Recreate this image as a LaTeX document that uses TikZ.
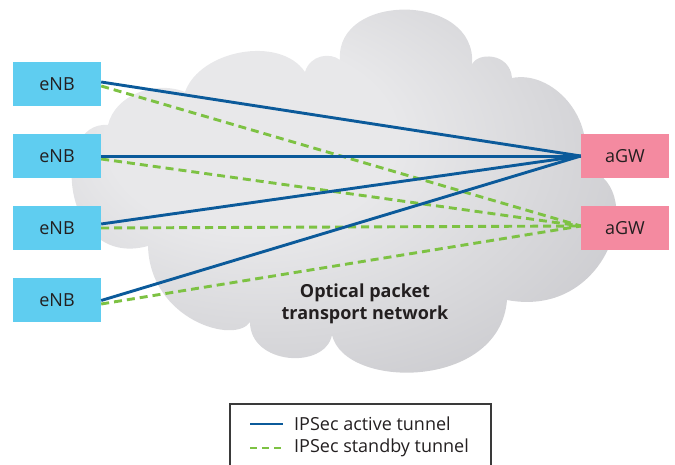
\documentclass[tikz,border=0pt]{standalone}
\usepackage{fontspec}
\setmainfont{Open Sans}
\usetikzlibrary{calc}

\definecolor{enbblue}{HTML}{5FCDF0}
\definecolor{gwpink}{HTML}{F48AA0}
\definecolor{activeblue}{HTML}{0B5A9A}
\definecolor{standbygreen}{HTML}{7DC243}
\definecolor{textdark}{HTML}{231F20}
\definecolor{cloudlight}{HTML}{E8E8EA}
\definecolor{clouddark}{HTML}{B8B8BD}
\definecolor{framegray}{HTML}{3A3A3A}

\pgfdeclareradialshading{cloudshade}{\pgfpoint{-10bp}{8bp}}{%
  color(0bp)=(cloudlight);
  color(12bp)=(cloudlight);
  color(46bp)=(clouddark);
  color(70bp)=(clouddark)}

\tikzset{
  label text/.style={font=\fontsize{18}{22}\selectfont, text=textdark},
  enbbox/.style={label text, fill=enbblue, minimum width=88pt, minimum height=44pt, inner sep=0pt},
  gwbox/.style={label text, fill=gwpink, minimum width=88pt, minimum height=44pt, inner sep=0pt},
  activeline/.style={draw=activeblue, line width=2.9pt},
  standbyline/.style={draw=standbygreen, line width=2.9pt, dash pattern=on 8pt off 5pt},
}

\begin{document}
\begin{tikzpicture}[x=1pt, y=-1pt]
  \useasboundingbox (0,0) rectangle (675,465);
  \clip (0,0) rectangle (675,465);

  % the network cloud
  \shade[shading=cloudshade]
    (108,125)
      .. controls (115,95) and (155,80) .. (185,92)
      .. controls (200,50) and (280,35) .. (305,72)
      .. controls (310,55) and (330,52) .. (340,60)
      .. controls (335,-8) and (478,-8) .. (472,65)
      .. controls (476,52) and (510,52) .. (512,78)
      .. controls (552,70) and (597,118) .. (583,168)
      .. controls (650,180) and (612,320) .. (507,300)
      .. controls (500,390) and (345,390) .. (332,335)
      .. controls (325,370) and (250,365) .. (250,322)
      .. controls (235,345) and (150,320) .. (148,246)
      .. controls (60,270) and (50,120) .. (108,125)
      -- cycle;

  \node[label text, font=\fontsize{18}{22}\selectfont\bfseries, align=center]
    (net) at (365,304) {Optical packet\\transport network};

  % base stations and access gateways
  \node[enbbox] (e1) at (57,84)  {eNB};
  \node[enbbox] (e2) at (57,156) {eNB};
  \node[enbbox] (e3) at (57,228) {eNB};
  \node[enbbox] (e4) at (57,300) {eNB};
  \node[gwbox]  (g1) at (625,156) {aGW};
  \node[gwbox]  (g2) at (625,228) {aGW};

  % standby tunnels to the second gateway
  \coordinate (gs) at ($(g2.west)+(0,-2)$);
  \draw[standbyline] ($(e1.east)+(0,2)$) -- (gs);
  \draw[standbyline] ($(e2.east)+(0,3)$) -- (gs);
  \draw[standbyline] ($(e3.east)+(0,0)$) -- (gs);
  \draw[standbyline] ($(e4.east)+(0,4)$) -- (gs);

  % active tunnels to the first gateway
  \draw[activeline] ($(e1.east)+(0,-2)$) -- (g1.west);
  \draw[activeline] ($(e2.east)+(0,0.5)$) -- ($(g1.west)+(0,0.5)$);
  \draw[activeline] ($(e3.east)+(0,-4)$) -- (g1.west);
  \draw[activeline] ($(e4.east)+(0,0.5)$) -- (g1.west);

  % legend
  \draw[framegray, line width=1.3pt] (230,470) -- (230,404) -- (491,404) -- (491,470);
  \coordinate (la1) at (250,424);
  \coordinate (la2) at (283,424);
  \coordinate (ls1) at (250,448);
  \coordinate (ls2) at (283,448);
  \draw[activeline] (la1) -- (la2);
  \draw[standbyline, dash pattern=on 7pt off 5pt] (ls1) -- (ls2);
  \node[label text, anchor=west, inner sep=0pt] (lat) at (294,424) {IPSec active tunnel};
  \node[label text, anchor=west, inner sep=0pt] (lst) at (294,448) {IPSec standby tunnel};
\end{tikzpicture}
\end{document}
